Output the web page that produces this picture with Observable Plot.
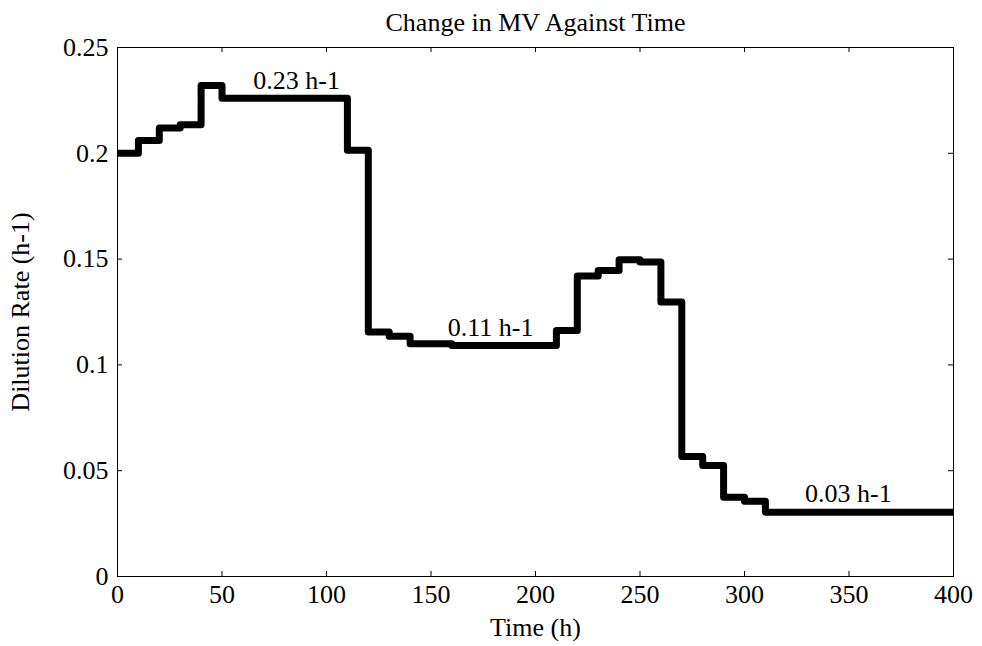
<!DOCTYPE html>
<html>
<head>
<meta charset="utf-8">
<script src="https://cdn.jsdelivr.net/npm/d3@7"></script>
<script src="https://cdn.jsdelivr.net/npm/@observablehq/plot@0.6"></script>
<style>
  html, body { margin: 0; padding: 0; background: #fff; }
  #chart svg, #chart svg text { font-family: "Liberation Serif", "Times New Roman", "DejaVu Serif", serif !important; }
</style>
</head>
<body>
<div id="chart"></div>
<script>
// Step change points (h) and dilution rate held from each time
const times  = [0, 10, 20, 30, 40, 50, 110, 120, 130, 140, 160, 210, 220, 230, 240, 250, 260, 270, 280, 290, 300, 310, 400];
const rates  = [0.200, 0.206, 0.212, 0.2135, 0.232, 0.226, 0.2015, 0.1155, 0.1135, 0.110, 0.1092, 0.1163, 0.142, 0.1446, 0.1497, 0.1486, 0.1297, 0.0567, 0.0525, 0.0375, 0.0356, 0.0304, 0.0304];

// Annotations
const noteText = ["0.23 h-1", "0.11 h-1", "0.03 h-1"];
const noteX    = [65, 158, 329];
const noteY    = [0.2344, 0.1178, 0.0392];

// Ticks
const xTicks = [0, 50, 100, 150, 200, 250, 300, 350, 400];
const yTicks = [0, 0.05, 0.1, 0.15, 0.2, 0.25];

const title = "Change in MV Against Time";
const xLabel = "Time (h)";
const yLabel = "Dilution Rate (h-1)";

const series = times.map((t, i) => ({t, v: rates[i]}));
const notes = noteText.map((s, i) => ({s, x: noteX[i], y: noteY[i]}));

const W = 982, H = 646;
const mL = 117, mR = 29, mT = 47, mB = 70;
const innerW = W - mL - mR, innerH = H - mT - mB;
const tickLen = 5;
const FONT = "Liberation Serif, Times New Roman, serif";
const FS = 26;

const chart = Plot.plot({
  width: W,
  height: H,
  marginLeft: mL,
  marginRight: mR,
  marginTop: mT,
  marginBottom: mB,
  style: {fontFamily: FONT, fontSize: FS + "px", color: "black", background: "white"},
  x: {domain: [0, 400]},
  y: {domain: [0, 0.25]},
  marks: [
    Plot.line(series, {x: "t", y: "v", curve: "step-after", stroke: "black", strokeWidth: 7, strokeLinejoin: "round", clip: true}),
    Plot.frame({stroke: "black", strokeWidth: 1}),
    // inward ticks on all four sides
    Plot.tickX(xTicks, {x: d => d, insetTop: innerH - tickLen, stroke: "black"}),
    Plot.tickX(xTicks, {x: d => d, insetBottom: innerH - tickLen, stroke: "black"}),
    Plot.tickY(yTicks, {y: d => d, insetRight: innerW - tickLen, stroke: "black"}),
    Plot.tickY(yTicks, {y: d => d, insetLeft: innerW - tickLen, stroke: "black"}),
    Plot.axisX(xTicks, {anchor: "bottom", tickSize: 0, tickPadding: 8, fontSize: FS, fontFamily: FONT, label: xLabel, labelAnchor: "center", labelArrow: "none", labelOffset: 59}),
    Plot.axisY(yTicks, {anchor: "left", tickSize: 0, tickPadding: 9, fontSize: FS, fontFamily: FONT, tickFormat: d => String(d), label: yLabel, labelAnchor: "center", labelArrow: "none", labelOffset: 107}),
    Plot.text(notes, {x: "x", y: "y", text: "s", textAnchor: "start", lineAnchor: "middle", fontSize: FS, fontFamily: FONT, fill: "black"}),
    Plot.text([title], {frameAnchor: "top", dy: -25, text: d => d, lineAnchor: "middle", fontSize: FS, fontFamily: FONT, fill: "black"})
  ]
});
document.getElementById("chart").appendChild(chart);
</script>
</body>
</html>
